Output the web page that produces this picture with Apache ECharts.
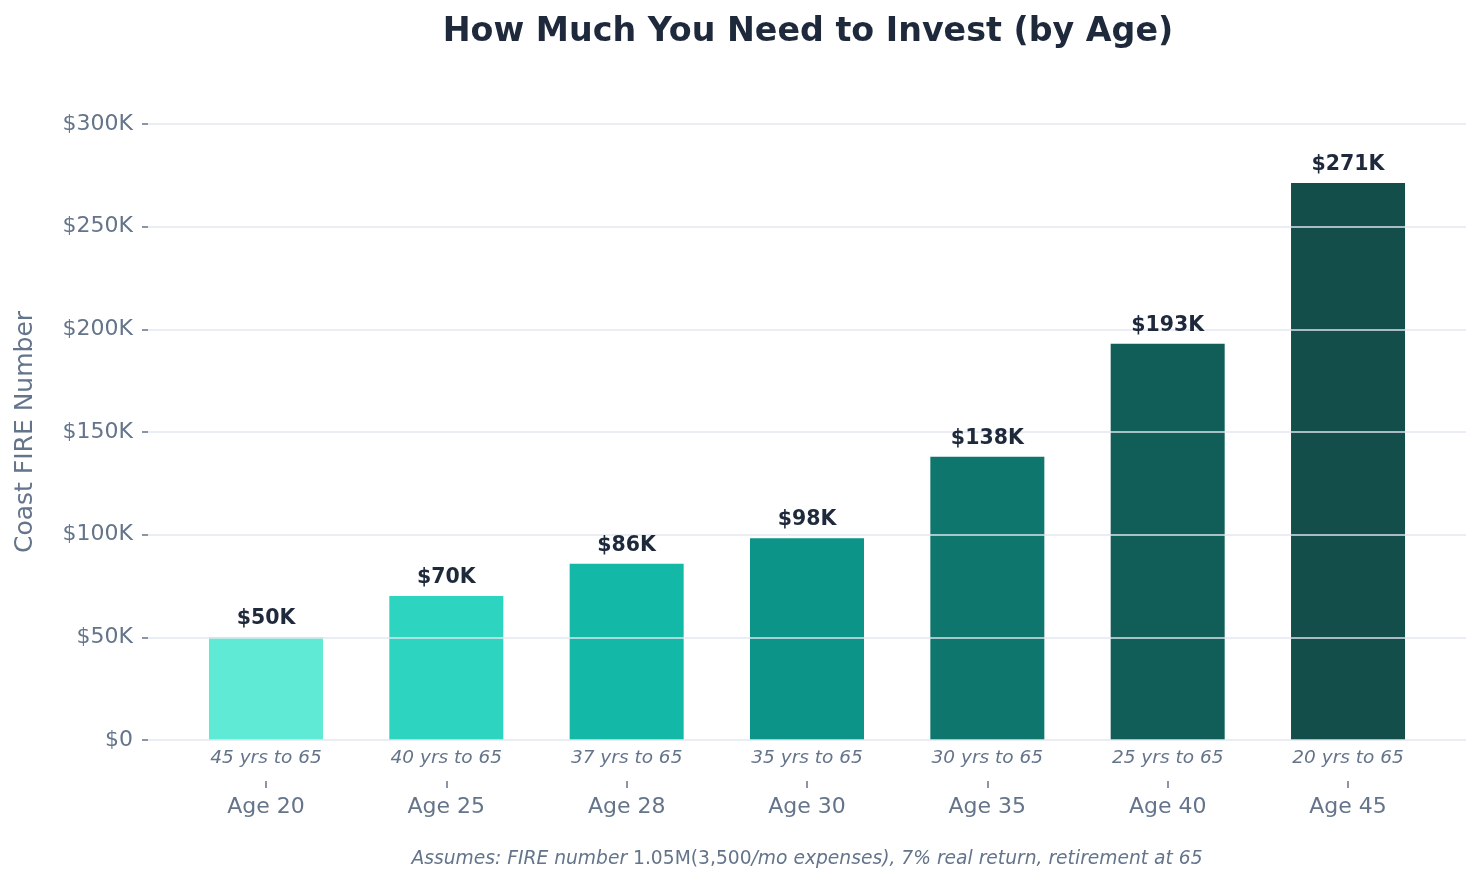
<!DOCTYPE html>
<html>
<head>
<meta charset="utf-8">
<script src="https://cdn.jsdelivr.net/npm/echarts@6/dist/echarts.min.js"></script>
<style>
  html, body { margin: 0; padding: 0; background: #fff; }
  #chart { width: 1482px; height: 886px; }
</style>
</head>
<body>
<div id="chart"></div>
<script>
// data (thousands of dollars)
const ages = ['Age 20', 'Age 25', 'Age 28', 'Age 30', 'Age 35', 'Age 40', 'Age 45']
const yearsLeft = ['45 yrs to 65', '40 yrs to 65', '37 yrs to 65', '35 yrs to 65', '30 yrs to 65', '25 yrs to 65', '20 yrs to 65']
const coastValues = [50.0, 70.1, 85.8, 98.3, 137.9, 193.0, 271.3]
const barColors = ['#5eead4', '#2dd4bf', '#14b8a6', '#0d9488', '#0f766e', '#115e59', '#134e4a']
const yTicks = [0, 50, 100, 150, 200, 250, 300]

const FONT = '"DejaVu Sans", sans-serif'
const GRAY = '#64748b'
const DARK = '#1e293b'

const chart = echarts.init(document.getElementById('chart'))

const option = {
  backgroundColor: '#ffffff',
  animation: false,
  textStyle: { fontFamily: FONT },
  title: [
    {
      text: 'How Much You Need to Invest (by Age)',
      left: 803, top: 11, textAlign: 'center',
      textStyle: { fontFamily: FONT, fontSize: 33.3, fontWeight: 'bold', color: DARK },
    },
    {
      // footnote
      text: '{i|Assumes: FIRE number }{n|1.05M(3,500}{i|/mo expenses), 7% real return, retirement at 65}',
      left: 802, top: 845, textAlign: 'center',
      textStyle: {
        fontWeight: 'normal',
        rich: {
          i: { fontFamily: FONT, fontSize: 18.7, fontStyle: 'italic', fontWeight: 'normal', color: GRAY },
          n: { fontFamily: FONT, fontSize: 18.7, fontWeight: 'normal', color: GRAY },
        },
      },
    },
  ],
  grid: [
    // wide grid: y axis, ticks and gridlines
    { left: 148, right: 16, top: 124, bottom: 146 },
    // narrower grid holding the bars
    { left: 175.8, right: 43.8, top: 124, bottom: 146 },
    // same columns, pushed down, for the age ticks and labels
    { left: 175.8, right: 43.8, top: 124, bottom: 105 },
  ],
  xAxis: [
    { gridIndex: 0, type: 'value', min: 0, max: 1, show: false },
    {
      gridIndex: 1, type: 'category', data: yearsLeft, position: 'bottom',
      axisLine: { show: false },
      axisTick: { show: false },
      axisLabel: { color: GRAY, fontSize: 18.5, fontStyle: 'italic', margin: 9, fontFamily: FONT },
    },
    {
      gridIndex: 2, type: 'category', data: ages, position: 'bottom',
      axisLine: { show: false },
      axisTick: { show: true, length: 7, alignWithLabel: true, lineStyle: { color: GRAY, width: 1.5 } },
      axisLabel: { color: GRAY, fontSize: 22, margin: 15, fontFamily: FONT },
    },
  ],
  yAxis: [
    {
      gridIndex: 0, type: 'value', min: 0, max: 300, interval: 50, z: 5,
      name: 'Coast FIRE Number', nameLocation: 'middle', nameGap: 110,
      nameTextStyle: { color: GRAY, fontSize: 25, fontFamily: FONT },
      axisLine: { show: false },
      axisTick: { show: true, length: 6, lineStyle: { color: GRAY, width: 1.5 } },
      axisLabel: {
        color: GRAY, fontSize: 22, margin: 15, fontFamily: FONT,
        formatter: (v) => (v === 0 ? '$0' : '$' + v + 'K'),
      },
      splitLine: { show: true, lineStyle: { color: 'rgba(226,232,240,0.72)', width: 2 } },
    },
    { gridIndex: 1, type: 'value', min: 0, max: 300, show: false },
    { gridIndex: 2, type: 'value', min: 0, max: 1, show: false },
  ],
  series: [
    {
      type: 'bar',
      xAxisIndex: 1,
      yAxisIndex: 1,
      barWidth: 114,
      z: 2,
      data: coastValues.map((v, i) => ({ value: v, itemStyle: { color: barColors[i] } })),
    },
    {
      // transparent copy that carries the value labels above the gridlines
      type: 'bar',
      xAxisIndex: 1,
      yAxisIndex: 1,
      barWidth: 114,
      barGap: '-100%',
      z: 10,
      silent: true,
      itemStyle: { color: 'rgba(0,0,0,0)' },
      data: coastValues,
      label: {
        show: true,
        position: 'top',
        distance: 8,
        color: DARK,
        fontSize: 20.5,
        fontWeight: 'bold',
        fontFamily: FONT,
        formatter: (p) => '$' + Math.round(p.value) + 'K',
      },
    },
  ],
}

chart.setOption(option)
</script>
</body>
</html>
